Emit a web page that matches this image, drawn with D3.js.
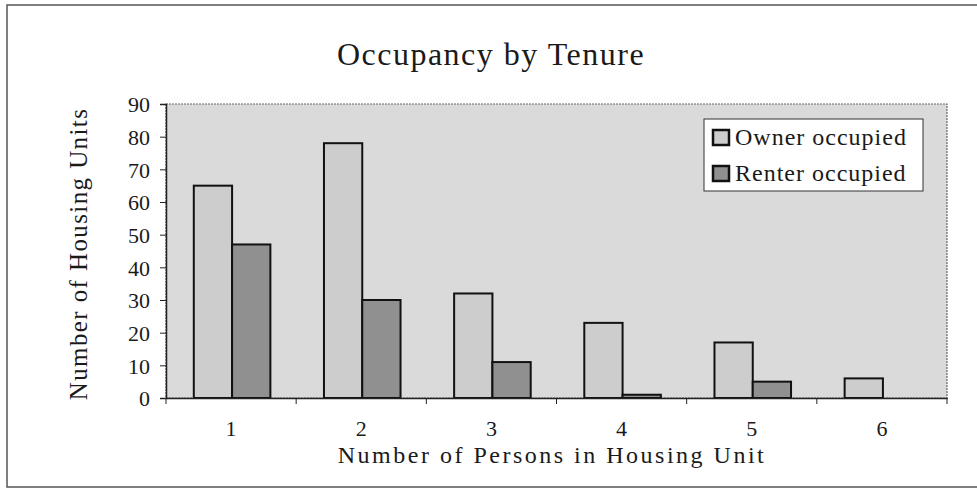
<!DOCTYPE html>
<html><head><meta charset="utf-8">
<script src="https://cdn.jsdelivr.net/npm/d3@7"></script>
<style>body{margin:0;background:#fff}svg{display:block}text{font-family:"Liberation Serif","DejaVu Serif",serif;fill:#1a1a1a}</style>
</head><body>
<svg id="c" width="977" height="497"></svg>
<script>
const categories = ["1","2","3","4","5","6"];
const seriesNames = ["Owner occupied","Renter occupied"];
const ownerValues = [65,78,32,23,17,6];
const renterValues = [47,30,11,1,5,0];
const yTicks = [0,10,20,30,40,50,60,70,80,90];

const svg = d3.select("#c");
const m = {l:166,r:947,t:104,b:398};
// outer frame
svg.append("rect").attr("x",7).attr("y",5).attr("width",990).attr("height",482)
  .attr("fill","#fff").attr("stroke","#555").attr("stroke-width",1.5);

const x = d3.scaleBand().domain(categories).range([m.l,m.r]).paddingInner(0).paddingOuter(0);
const xs = d3.scaleBand().domain(seriesNames).range([0,x.bandwidth()]).paddingInner(0).paddingOuter(0.7);
const y = d3.scaleLinear().domain([0,90]).range([m.b,m.t]);

svg.append("rect").attr("x",m.l).attr("y",m.t).attr("width",m.r-m.l).attr("height",m.b-m.t)
  .attr("fill","#dadada").attr("stroke","#666").attr("stroke-width",1.2).attr("stroke-dasharray","2,1");

const colors = {"Owner occupied":"#cdcdcd","Renter occupied":"#909090"};
const data = categories.map((c,i)=>({c, vals:[{s:seriesNames[0],v:ownerValues[i]},{s:seriesNames[1],v:renterValues[i]}]}));
const g = svg.append("g");
data.forEach(d=>{
  d.vals.forEach(e=>{
    if(e.v<=0) return;
    g.append("rect").attr("x",x(d.c)+xs(e.s)+1).attr("y",y(e.v))
      .attr("width",xs.bandwidth()).attr("height",y(0)-y(e.v))
      .attr("fill",colors[e.s]).attr("stroke","#111").attr("stroke-width",2);
  });
});

// y axis
const ya = svg.append("g").attr("transform",`translate(${m.l},0)`)
  .call(d3.axisLeft(y).tickValues(yTicks).tickSize(6).tickPadding(10));
ya.select(".domain").attr("stroke","#222").attr("stroke-width",1.5);
ya.selectAll("line").attr("stroke","#222");
ya.selectAll("text").attr("font-size",22).style("font-size","22px").attr("fill","#222").attr("dy","0.35em");

// x axis
const xa = svg.append("g").attr("transform",`translate(0,${m.b})`)
  .call(d3.axisBottom(x).tickSize(0).tickPadding(0));
xa.select(".domain").attr("stroke","#222").attr("stroke-width",1.5);
xa.selectAll("text").attr("font-size",22).style("font-size","22px").attr("fill","#222").attr("dy",null).attr("y",38);
const bounds = categories.map(c=>x(c)).concat([m.r]);
svg.append("g").selectAll("line").data(bounds).join("line")
  .attr("x1",d=>d).attr("x2",d=>d).attr("y1",m.b).attr("y2",m.b+6).attr("stroke","#222");

// titles
svg.append("text").attr("x",491).attr("y",65).attr("text-anchor","middle").style("font-size","32px").style("letter-spacing","1.5px").text("Occupancy by Tenure");
svg.append("text").attr("x",552).attr("y",463).attr("text-anchor","middle").style("font-size","24px").style("letter-spacing","2.5px").text("Number of Persons in Housing Unit");
svg.append("text").attr("transform",`translate(87,${(m.t+m.b)/2+3}) rotate(-90)`).attr("text-anchor","middle").style("font-size","25px").style("letter-spacing","1.4px").text("Number of Housing Units");

// legend
const lg = svg.append("g");
lg.append("rect").attr("x",704).attr("y",119).attr("width",219).attr("height",72).attr("fill","#fff").attr("stroke","#333").attr("stroke-width",1);
seriesNames.forEach((s,i)=>{
  const yy = 145 + i*36;
  lg.append("rect").attr("x",713).attr("y",yy-15).attr("width",16).attr("height",15).attr("fill",colors[s]).attr("stroke","#111").attr("stroke-width",2.5);
  lg.append("text").attr("x",735).attr("y",yy).style("font-size","24px").style("letter-spacing","1px").text(s);
});
</script>
</body></html>
